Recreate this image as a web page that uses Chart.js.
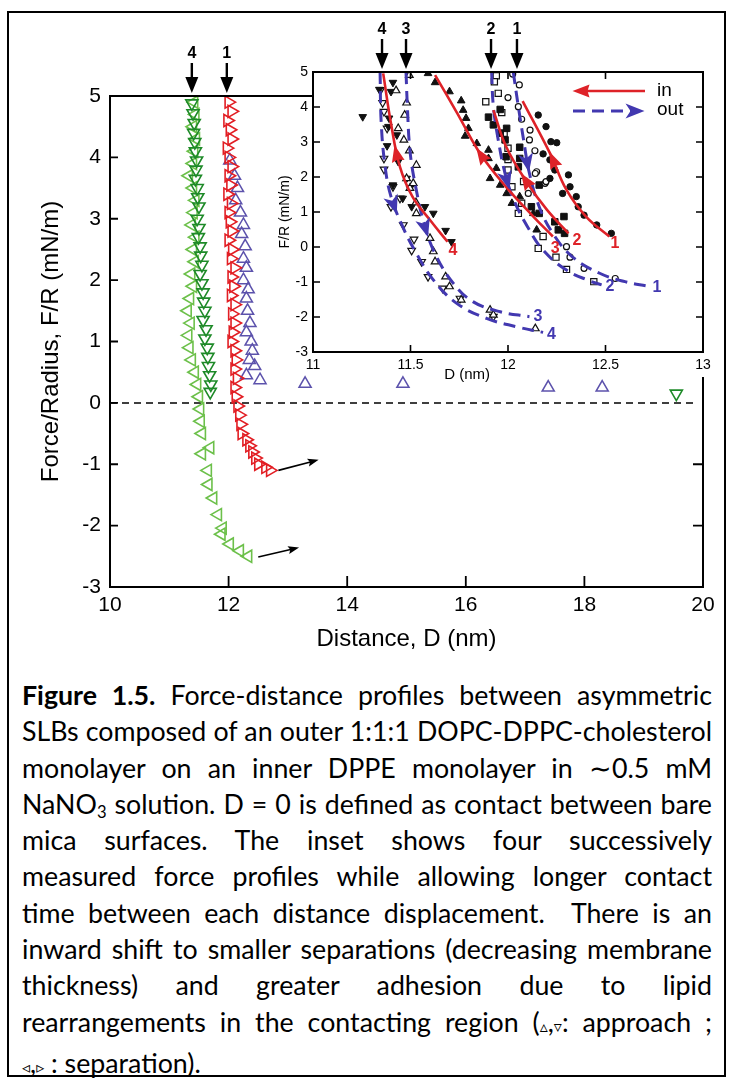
<!DOCTYPE html>
<html lang="en">
<head>
<meta charset="utf-8">
<title>Figure 1.5</title>
<script src="https://cdn.jsdelivr.net/npm/chart.js@4.4.1/dist/chart.umd.min.js"></script>
<style>
  html, body { margin: 0; padding: 0; background: #fff; }
  #page { position: relative; width: 733px; height: 1083px; overflow: hidden; background: #fff; }
  #frame { position: absolute; left: 7px; top: 11px; width: 719px; height: 1066px; border: 2px solid #000; box-sizing: border-box; }
  #mainChart { position: absolute; left: 0; top: 0; }
  #insetChart { position: absolute; left: 250px; top: 0; }
  #caption { position: absolute; left: 22px; top: 677px; width: 690px; font-family: Lato, 'Open Sans', sans-serif; font-size: 22px; line-height: 36.3px; color: #000; }
  #caption .ln { text-align: justify; text-align-last: justify; }
  #caption .ln:last-child { text-align-last: left; }
  #caption.measure .ln { text-align-last: left; white-space: nowrap; }
  #caption sub { font-size: 0.62em; vertical-align: -0.25em; line-height: 0; }
  .sym { font-family: 'DejaVu Sans', sans-serif; font-size: 0.6em; }
</style>
</head>
<body>
<div id="page">
  <div id="frame"></div>
  <canvas id="mainChart" width="733" height="660"></canvas>
  <canvas id="insetChart" width="483" height="400"></canvas>
  <div id="caption" class="measure">
    <div class="ln"><span><b>Figure 1.5.</b> Force-distance profiles between asymmetric</span></div>
    <div class="ln"><span>SLBs composed of an outer 1:1:1 DOPC-DPPC-cholesterol</span></div>
    <div class="ln"><span>monolayer on an inner DPPE monolayer in ∼0.5 mM</span></div>
    <div class="ln"><span>NaNO<sub>3</sub> solution. D = 0 is defined as contact between bare</span></div>
    <div class="ln"><span>mica surfaces. The inset shows four successively</span></div>
    <div class="ln"><span>measured force profiles while allowing longer contact</span></div>
    <div class="ln"><span>time between each distance displacement.&nbsp; There is an</span></div>
    <div class="ln"><span>inward shift to smaller separations (decreasing membrane</span></div>
    <div class="ln"><span>thickness) and greater adhesion due to lipid</span></div>
    <div class="ln"><span>rearrangements in the contacting region (<span class="sym">▵</span>,<span class="sym">▿</span>: approach ;</span></div>
    <div class="ln"><span><span class="sym">◃</span>,<span class="sym">▹</span> : separation).</span></div>
  </div>
</div>
<script>
'use strict';

const FONT = "'Liberation Sans', Arial, sans-serif";
Chart.defaults.font.family = FONT;
Chart.defaults.color = '#000';

// ---------- main plot: distance D (nm) vs F/R (mN/m) ----------
// run 4, approach (dark green down triangles)
const app4D = [11.38, 11.40, 11.42, 11.41, 11.43, 11.44, 11.46, 11.45, 11.44, 11.47, 11.48, 11.50, 11.47, 11.50, 11.49, 11.52, 11.53, 11.55, 11.52, 11.55, 11.57, 11.58, 11.60, 11.57, 11.62, 11.60, 11.64, 11.65, 11.66, 11.68, 11.70, 11.69, 19.55];
const app4F = [4.88, 4.72, 4.56, 4.40, 4.25, 4.10, 3.95, 3.80, 3.65, 3.50, 3.35, 3.20, 3.00, 2.85, 2.70, 2.55, 2.40, 2.25, 2.10, 1.95, 1.80, 1.65, 1.50, 1.35, 1.20, 1.05, 0.90, 0.75, 0.60, 0.45, 0.30, 0.18, 0.15];
// run 4, separation (light green left triangles)
const sep4D = [11.42, 11.44, 11.40, 11.45, 11.42, 11.40, 11.33, 11.40, 11.44, 11.41, 11.38, 11.44, 11.40, 11.43, 11.37, 11.40, 11.35, 11.31, 11.36, 11.32, 11.34, 11.38, 11.43, 11.47, 11.50, 11.52, 11.53, 11.55, 11.55, 11.69, 11.65, 11.66, 11.74, 11.82, 11.90, 11.88, 12.02, 12.19, 12.33];
const sep4F = [4.90, 4.70, 4.50, 4.30, 4.10, 3.90, 3.70, 3.50, 3.30, 3.10, 2.90, 2.70, 2.50, 2.30, 2.10, 1.90, 1.70, 1.50, 1.30, 1.10, 0.90, 0.70, 0.50, 0.30, 0.10, -0.10, -0.30, -0.50, -0.83, -0.73, -1.10, -1.33, -1.55, -1.82, -2.04, -2.14, -2.30, -2.41, -2.50];
// run 1, separation (red right triangles)
const sep1D = [12.00, 12.05, 11.98, 12.02, 12.05, 11.97, 12.00, 12.05, 12.00, 12.03, 11.98, 12.04, 12.00, 12.02, 12.05, 12.00, 12.06, 12.04, 12.10, 12.05, 12.08, 12.04, 12.10, 12.06, 12.10, 12.07, 12.05, 12.10, 12.12, 12.10, 12.14, 12.10, 12.12, 12.15, 12.18, 12.20, 12.22, 12.30, 12.35, 12.40, 12.45, 12.50, 12.62, 12.70];
const sep1F = [4.90, 4.75, 4.60, 4.45, 4.30, 4.15, 4.00, 3.85, 3.70, 3.55, 3.40, 3.25, 3.10, 2.95, 2.80, 2.65, 2.50, 2.35, 2.20, 2.05, 1.90, 1.75, 1.60, 1.45, 1.30, 1.15, 1.00, 0.85, 0.70, 0.55, 0.40, 0.25, 0.10, -0.05, -0.20, -0.35, -0.50, -0.60, -0.70, -0.80, -0.90, -1.00, -1.05, -1.10];
// run 1, approach (blue up triangles)
const app1D = [12.02, 12.10, 12.15, 12.12, 12.20, 12.25, 12.22, 12.28, 12.25, 12.30, 12.25, 12.33, 12.30, 12.32, 12.36, 12.30, 12.38, 12.40, 12.35, 12.44, 12.30, 12.53, 13.29, 14.94, 17.39, 18.30];
const app1F = [3.95, 3.70, 3.50, 3.30, 3.10, 2.90, 2.75, 2.55, 2.35, 2.20, 2.00, 1.85, 1.70, 1.50, 1.30, 1.15, 1.00, 0.85, 0.70, 0.60, 0.45, 0.37, 0.31, 0.31, 0.25, 0.25];
const zeroD = [10, 19.85];
const zeroF = [0, 0];
// run markers above the main plot and the two drift arrows
const mainRunD = [11.38, 11.97];
const mainRunLab = ['4', '1'];
const driftFromD = [12.50, 12.84];
const driftFromF = [-2.51, -1.10];
const driftToD = [13.18, 13.51];
const driftToF = [-2.36, -0.93];

// ---------- inset: fitted in/out curves ----------
const in1D = [12.075, 12.215, 12.30, 12.40, 12.52];
const in1F = [4.17, 2.68, 1.63, 0.87, 0.30];
const out1D = [12.027, 12.053, 12.08, 12.11, 12.16, 12.23, 12.33, 12.47, 12.60, 12.72];
const out1F = [5.0, 4.01, 3.06, 2.10, 1.15, 0.39, -0.28, -0.75, -0.99, -1.12];
const in2D = [11.925, 11.99, 12.10, 12.20, 12.31];
const in2F = [3.91, 2.87, 1.82, 1.06, 0.39];
const out2D = [11.916, 11.925, 11.95, 11.985, 12.03, 12.10, 12.18, 12.30, 12.42, 12.48];
const out2F = [5.0, 4.01, 3.06, 2.10, 1.34, 0.58, -0.09, -0.66, -0.97, -1.08];
const in3D = [11.626, 11.74, 11.856, 11.99, 12.13, 12.23];
const in3F = [4.91, 3.82, 2.68, 1.72, 0.87, 0.30];
const out3D = [11.477, 11.484, 11.497, 11.523, 11.574, 11.634, 11.72, 11.82, 11.96, 12.11];
const out3F = [5.0, 4.01, 2.77, 1.82, 0.58, -0.28, -1.04, -1.56, -1.85, -1.99];
const in4D = [11.36, 11.40, 11.446, 11.51, 11.60, 11.69];
const in4F = [4.96, 3.53, 2.29, 1.44, 0.77, 0.15];
const out4D = [11.344, 11.35, 11.37, 11.40, 11.46, 11.53, 11.617, 11.737, 11.89, 12.045, 12.18];
const out4F = [5.0, 3.53, 2.29, 1.44, 0.58, -0.18, -0.94, -1.61, -2.04, -2.28, -2.44];
// arrowheads sit where each curve crosses these F values
const inArrowF = [2.5, 1.9, 2.63, 2.68];
const outArrowF = [2.4, 1.9, 0.54, 1.2];
const insetRunD = [11.354, 11.477, 11.913, 12.046];
const insetRunLab = ['4', '3', '2', '1'];

// ---------- inset: measured points ----------
const fCircD = [12.155, 12.195, 12.22, 12.25, 12.18, 12.215, 12.24, 12.215, 12.28, 12.318, 12.31, 12.35, 12.36, 12.39, 12.455, 12.53];
const fCircF = [3.77, 3.44, 3.01, 2.98, 2.66, 2.49, 2.20, 1.96, 1.53, 1.72, 2.06, 1.44, 1.15, 0.91, 0.63, 0.39];
const oCircD = [12.024, 12.058, 12.0, 12.053, 12.07, 12.113, 12.11, 12.138, 12.147, 12.14, 12.19, 12.104, 12.195, 12.30, 12.318, 12.39, 12.55];
const oCircF = [4.94, 4.63, 4.27, 4.01, 3.65, 3.34, 3.06, 2.75, 2.15, 2.10, 1.82, 1.53, 1.87, 0.01, -0.29, -0.61, -0.90];
const fSqD = [11.96, 11.90, 11.925, 11.993, 11.96, 11.985, 12.06, 11.99, 12.053, 12.06, 12.16, 12.12, 12.16, 12.287, 12.24, 12.258, 12.29];
const fSqF = [3.93, 3.71, 3.49, 3.39, 3.25, 3.06, 2.85, 2.58, 2.29, 2.53, 1.77, 1.15, 0.96, 0.87, 0.72, 0.49, 0.39];
const oSqD = [11.94, 11.93, 11.95, 11.886, 11.968, 11.98, 12.0, 12.0, 12.0, 12.08, 12.02, 12.07, 12.053, 12.18, 12.155, 12.246, 12.30, 12.44];
const oSqF = [4.89, 4.72, 4.39, 4.15, 3.84, 3.25, 2.82, 2.50, 2.20, 1.87, 1.72, 1.25, 0.96, 0.30, -0.04, -0.29, -0.64, -0.99];
const fUpD = [11.59, 11.626, 11.70, 11.76, 11.77, 11.785, 11.797, 11.78, 11.84, 11.90, 11.90, 11.94, 11.908, 11.96, 11.993, 12.02, 12.06, 12.13, 12.147];
const fUpF = [4.96, 4.70, 4.44, 4.18, 3.91, 3.68, 3.39, 3.17, 2.96, 2.77, 2.53, 2.25, 1.96, 1.77, 1.53, 1.25, 1.44, 0.96, 0.49];
const oUpD = [11.494, 11.426, 11.48, 11.47, 11.437, 11.466, 11.494, 11.53, 11.48, 11.497, 11.514, 11.528, 11.53, 11.60, 11.617, 11.626, 11.68, 11.70, 11.76, 11.908, 11.925, 12.14];
const oUpF = [4.91, 4.47, 4.12, 3.77, 3.39, 3.06, 2.75, 2.34, 1.96, 1.68, 1.82, 1.27, 0.96, 0.25, -0.13, -0.42, -0.85, -1.13, -1.51, -1.80, -1.94, -2.33];
const fDnD = [11.41, 11.40, 11.34, 11.255, 11.39, 11.387, 11.43, 11.38, 11.437, 11.48, 11.497, 11.46, 11.41, 11.574, 11.506, 11.617, 11.68, 11.71];
const fDnF = [4.70, 4.44, 4.50, 3.72, 3.68, 3.44, 3.20, 2.89, 2.44, 1.96, 1.68, 1.39, 1.77, 1.15, 1.15, 0.96, 0.47, 0.15];
const oDnD = [11.347, 11.357, 11.364, 11.38, 11.364, 11.364, 11.41, 11.446, 11.40, 11.463, 11.518, 11.506, 11.557, 11.59, 11.665, 11.754, 11.925];
const oDnF = [4.49, 4.12, 3.87, 3.39, 2.53, 2.22, 1.72, 1.39, 1.15, 0.63, 0.22, -0.10, -0.42, -0.85, -1.18, -1.47, -1.99];

const RED = 'rgb(222,34,40)';
const BLUE = 'rgb(66,56,176)';
const INK = '#111';

function pts(d, f) {
  let out = [];
  for (let i = 0; i < Math.min(d.length, f.length); i++) {
    out.push({ x: d[i], y: f[i] });
  }
  return out;
}

function markers(label, d, f, style, rot, r, color, fill, bw) {
  return {
    label: label,
    data: pts(d, f),
    showLine: false,
    pointStyle: style,
    pointRotation: rot,
    pointRadius: r,
    pointHoverRadius: r,
    pointBorderColor: color,
    pointBackgroundColor: fill,
    pointBorderWidth: bw
  };
}

function curve(label, d, f, color, dashed) {
  return {
    label: label,
    data: pts(d, f),
    showLine: true,
    pointRadius: 0,
    pointHoverRadius: 0,
    borderColor: color,
    borderWidth: dashed ? 3 : 2.6,
    borderDash: dashed ? [12, 7] : [],
    tension: 0.4,
    fill: false
  };
}

function head(ctx, x, y, ang, len, half, notch, color) {
  ctx.save();
  ctx.translate(x, y);
  ctx.rotate(ang);
  ctx.beginPath();
  ctx.moveTo(len / 2, 0);
  ctx.lineTo(-len / 2, -half);
  ctx.lineTo(-len / 2 + notch, 0);
  ctx.lineTo(-len / 2, half);
  ctx.closePath();
  ctx.fillStyle = color;
  ctx.fill();
  ctx.restore();
}

// the numbered arrows pointing down onto the top of a plot
function runArrow(ctx, px, tipY, label) {
  ctx.save();
  ctx.fillStyle = '#000';
  ctx.strokeStyle = '#000';
  ctx.font = 'bold 16px ' + FONT;
  ctx.textAlign = 'center';
  ctx.textBaseline = 'middle';
  ctx.fillText(label, px, tipY - 39);
  ctx.lineWidth = 2.4;
  ctx.beginPath();
  ctx.moveTo(px, tipY - 30);
  ctx.lineTo(px, tipY - 12);
  ctx.stroke();
  head(ctx, px, tipY - 8, Math.PI / 2, 16, 6.5, 0, '#000');
  ctx.restore();
}

function bez(p0, c1, c2, p1, t) {
  const u = 1 - t;
  return u * u * u * p0 + 3 * u * u * t * c1 + 3 * u * t * t * c2 + t * t * t * p1;
}
function bezD(p0, c1, c2, p1, t) {
  const u = 1 - t;
  return 3 * u * u * (c1 - p0) + 6 * u * t * (c2 - c1) + 3 * t * t * (p1 - c2);
}

// find where the drawn (bezier) curve crosses pixel row py
function pointOnCurve(meta, py) {
  const p = meta.data;
  for (let i = 0; i < p.length - 1; i++) {
    const a = p[i], b = p[i + 1];
    if ((py - a.y) * (py - b.y) > 0) continue;
    const c1x = a.cp2x ?? a.x, c1y = a.cp2y ?? a.y;
    const c2x = b.cp1x ?? b.x, c2y = b.cp1y ?? b.y;
    const dir = b.y > a.y ? 1 : -1;
    let lo = 0, hi = 1;
    for (let k = 0; k < 40; k++) {
      const t = (lo + hi) / 2;
      if ((bez(a.y, c1y, c2y, b.y, t) - py) * dir < 0) lo = t; else hi = t;
    }
    const t = (lo + hi) / 2;
    return {
      x: bez(a.x, c1x, c2x, b.x, t), y: bez(a.y, c1y, c2y, b.y, t),
      dx: bezD(a.x, c1x, c2x, b.x, t), dy: bezD(a.y, c1y, c2y, b.y, t)
    };
  }
  return null;
}

// ---------- main chart ----------
const INSET_LEFT = 313;   // page px where the inset box starts
const INSET_BOTTOM = 377; // page px where the inset labels end

const mainDecor = {
  id: 'mainDecor',
  afterDatasetsDraw(chart) {
    const { ctx, chartArea: a, scales: { x, y } } = chart;
    ctx.save();
    ctx.strokeStyle = '#000';
    ctx.lineWidth = 2;
    ctx.beginPath();
    ctx.moveTo(INSET_LEFT, a.top);
    ctx.lineTo(a.left, a.top);
    ctx.lineTo(a.left, a.bottom);
    ctx.lineTo(a.right, a.bottom);
    ctx.lineTo(a.right, INSET_BOTTOM);
    ctx.stroke();

    ctx.lineWidth = 1.8;
    ctx.beginPath();
    for (let v = -2; v <= 4; v++) {
      const py = y.getPixelForValue(v);
      ctx.moveTo(a.left, py);
      ctx.lineTo(a.left + 8, py);
    }
    for (let v = 12; v <= 18; v += 2) {
      const px = x.getPixelForValue(v);
      ctx.moveTo(px, a.bottom);
      ctx.lineTo(px, a.bottom - 11);
    }
    for (const v of [-2, -1]) {
      const py = y.getPixelForValue(v);
      ctx.moveTo(a.right, py);
      ctx.lineTo(a.right - 10, py);
    }
    ctx.stroke();

    // drift arrows next to the adhesion minima
    ctx.lineWidth = 1.6;
    for (let i = 0; i < driftFromD.length; i++) {
      const x0 = x.getPixelForValue(driftFromD[i]), y0 = y.getPixelForValue(driftFromF[i]);
      const x1 = x.getPixelForValue(driftToD[i]), y1 = y.getPixelForValue(driftToF[i]);
      const ang = Math.atan2(y1 - y0, x1 - x0);
      ctx.beginPath();
      ctx.moveTo(x0, y0);
      ctx.lineTo(x1 - 6 * Math.cos(ang), y1 - 6 * Math.sin(ang));
      ctx.stroke();
      head(ctx, x1 - 5 * Math.cos(ang), y1 - 5 * Math.sin(ang), ang, 11, 4, 2, '#000');
    }
    ctx.restore();

    for (let i = 0; i < mainRunD.length; i++) {
      runArrow(ctx, x.getPixelForValue(mainRunD[i]), a.top - 3, mainRunLab[i]);
    }
  }
};

new Chart(document.getElementById('mainChart'), {
  type: 'scatter',
  data: {
    datasets: [
      markers('run 1 out', sep1D, sep1F, 'triangle', 90, 7, 'rgb(226,30,36)', 'rgba(0,0,0,0)', 1.6),
      markers('run 1 in', app1D, app1F, 'triangle', 0, 7, 'rgb(92,82,172)', 'rgba(0,0,0,0)', 1.5),
      markers('run 4 in', app4D, app4F, 'triangle', 180, 7, 'rgb(30,138,40)', 'rgba(0,0,0,0)', 1.6),
      markers('run 4 out', sep4D, sep4F, 'triangle', 270, 7, 'rgb(108,192,74)', 'rgba(0,0,0,0)', 1.6),
      {
        label: 'zero', data: pts(zeroD, zeroF), showLine: true, pointRadius: 0,
        borderColor: '#000', borderWidth: 1.5, borderDash: [7, 5]
      }
    ]
  },
  options: {
    responsive: false,
    animation: false,
    events: [],
    layout: { padding: { left: 0, right: 30, top: 96, bottom: 0 } },
    plugins: { legend: { display: false }, tooltip: { enabled: false } },
    scales: {
      x: {
        type: 'linear', min: 10, max: 20,
        afterFit: (s) => { s.height = 73; },
        grid: { display: false, drawTicks: false },
        border: { display: false },
        ticks: { stepSize: 2, font: { size: 21 }, padding: 6, maxRotation: 0 },
        title: { display: true, text: 'Distance, D (nm)', font: { size: 24 }, padding: { top: 0, bottom: 6 } }
      },
      y: {
        type: 'linear', min: -3, max: 5,
        afterFit: (s) => { s.width = 110; },
        grid: { display: false, drawTicks: false },
        border: { display: false },
        ticks: { stepSize: 1, font: { size: 21 }, padding: 9 },
        title: { display: true, text: 'Force/Radius, F/R (mN/m)', font: { size: 24 }, padding: { top: 37, bottom: 0 } }
      }
    }
  },
  plugins: [mainDecor]
});

// ---------- inset chart ----------
const curveLabels = [
  { ds: 'in 1', text: '1', color: RED, dx: 1, dy: 7 },
  { ds: 'in 2', text: '2', color: RED, dx: 4, dy: 7 },
  { ds: 'in 3', text: '3', color: RED, dx: -2, dy: 12 },
  { ds: 'in 4', text: '4', color: RED, dx: 1, dy: 9 },
  { ds: 'out 1', text: '1', color: BLUE, dx: 4, dy: 1 },
  { ds: 'out 2', text: '2', color: BLUE, dx: 4, dy: 2 },
  { ds: 'out 3', text: '3', color: BLUE, dx: 4, dy: 0 },
  { ds: 'out 4', text: '4', color: BLUE, dx: 4, dy: 2 }
];

const insetDecor = {
  id: 'insetDecor',
  afterDatasetsDraw(chart) {
    const { ctx, chartArea: a, scales: { x, y } } = chart;
    const names = chart.data.datasets.map(d => d.label);

    // direction arrowheads on the curves
    for (let i = 0; i < 4; i++) {
      const mi = chart.getDatasetMeta(names.indexOf('in ' + (i + 1)));
      const pi = pointOnCurve(mi, y.getPixelForValue(inArrowF[i]));
      if (pi) head(ctx, pi.x, pi.y, Math.atan2(-pi.dy, -pi.dx), 17, 6.5, 2, RED);
      const mo = chart.getDatasetMeta(names.indexOf('out ' + (i + 1)));
      const po = pointOnCurve(mo, y.getPixelForValue(outArrowF[i]));
      if (po) head(ctx, po.x, po.y, Math.atan2(po.dy, po.dx), 19, 7.5, 5, BLUE);
    }

    ctx.save();
    // frame and inward ticks
    ctx.strokeStyle = '#000';
    ctx.lineWidth = 2;
    ctx.strokeRect(a.left, a.top, a.right - a.left, a.bottom - a.top);
    ctx.lineWidth = 1.6;
    ctx.beginPath();
    for (let v = -2; v <= 4; v++) {
      const py = y.getPixelForValue(v);
      ctx.moveTo(a.left, py);
      ctx.lineTo(a.left + 7, py);
      ctx.moveTo(a.right, py);
      ctx.lineTo(a.right - 7, py);
    }
    for (const v of [11.5, 12, 12.5]) {
      const px = x.getPixelForValue(v);
      ctx.moveTo(px, a.bottom);
      ctx.lineTo(px, a.bottom - 7);
      ctx.moveTo(px, a.top);
      ctx.lineTo(px, a.top + 7);
    }
    ctx.stroke();

    // legend
    const lx = a.left + 260, ly1 = a.top + 19, ly2 = a.top + 39;
    ctx.strokeStyle = RED;
    ctx.lineWidth = 2.6;
    ctx.beginPath();
    ctx.moveTo(lx + 12, ly1);
    ctx.lineTo(lx + 72, ly1);
    ctx.stroke();
    head(ctx, lx + 8, ly1, Math.PI, 17, 6.5, 2, RED);
    ctx.strokeStyle = BLUE;
    ctx.lineWidth = 3;
    ctx.setLineDash([12, 7]);
    ctx.beginPath();
    ctx.moveTo(lx, ly2);
    ctx.lineTo(lx + 58, ly2);
    ctx.stroke();
    ctx.setLineDash([]);
    head(ctx, lx + 62, ly2, 0, 19, 7.5, 5, BLUE);
    ctx.fillStyle = '#000';
    ctx.font = '19px ' + FONT;
    ctx.textAlign = 'left';
    ctx.textBaseline = 'middle';
    ctx.fillText('in', lx + 84, ly1);
    ctx.fillText('out', lx + 84, ly2 - 1);

    // curve numbers
    ctx.font = 'bold 16px ' + FONT;
    for (const c of curveLabels) {
      const meta = chart.getDatasetMeta(names.indexOf(c.ds));
      const last = meta.data[meta.data.length - 1];
      ctx.fillStyle = c.color;
      ctx.fillText(c.text, last.x + c.dx, last.y + c.dy);
    }

    // x title sits between the 11.5 and 12 labels
    ctx.fillStyle = '#000';
    ctx.font = '15px ' + FONT;
    ctx.textAlign = 'center';
    ctx.fillText('D (nm)', x.getPixelForValue(11.79), a.bottom + 23);
    ctx.restore();

    for (let i = 0; i < insetRunD.length; i++) {
      runArrow(ctx, x.getPixelForValue(insetRunD[i]), a.top - 3, insetRunLab[i]);
    }
  }
};

new Chart(document.getElementById('insetChart'), {
  type: 'scatter',
  data: {
    datasets: [
      curve('in 1', in1D, in1F, RED, false),
      curve('in 2', in2D, in2F, RED, false),
      curve('in 3', in3D, in3F, RED, false),
      curve('in 4', in4D, in4F, RED, false),
      curve('out 1', out1D, out1F, BLUE, true),
      curve('out 2', out2D, out2F, BLUE, true),
      curve('out 3', out3D, out3F, BLUE, true),
      curve('out 4', out4D, out4F, BLUE, true),
      markers('1 in', fCircD, fCircF, 'circle', 0, 3.2, INK, INK, 1),
      markers('1 out', oCircD, oCircF, 'circle', 0, 3, INK, '#fff', 1.2),
      markers('2 in', fSqD, fSqF, 'rect', 0, 4.6, INK, INK, 1),
      markers('2 out', oSqD, oSqF, 'rect', 0, 4.4, INK, '#fff', 1.2),
      markers('3 in', fUpD, fUpF, 'triangle', 0, 4.4, INK, INK, 1),
      markers('3 out', oUpD, oUpF, 'triangle', 0, 4.4, INK, '#fff', 1.2),
      markers('4 in', fDnD, fDnF, 'triangle', 180, 4.4, INK, INK, 1),
      markers('4 out', oDnD, oDnF, 'triangle', 180, 4.4, INK, '#fff', 1.2)
    ]
  },
  options: {
    responsive: false,
    animation: false,
    events: [],
    layout: { padding: { left: 0, right: 30, top: 72, bottom: 0 } },
    plugins: { legend: { display: false }, tooltip: { enabled: false } },
    scales: {
      x: {
        type: 'linear', min: 11, max: 13,
        afterFit: (s) => { s.height = 48; },
        grid: { display: false, drawTicks: false },
        border: { display: false },
        ticks: {
          stepSize: 0.5, font: { size: 14 }, padding: 5, maxRotation: 0, autoSkip: false,
          callback: (v) => String(v)
        }
      },
      y: {
        type: 'linear', min: -3, max: 5,
        afterFit: (s) => { s.width = 63; },
        grid: { display: false, drawTicks: false },
        border: { display: false },
        ticks: { stepSize: 1, font: { size: 14 }, padding: 5 },
        title: { display: true, text: 'F/R (mN/m)', font: { size: 14 }, padding: { top: 27, bottom: 0 } }
      }
    }
  },
  plugins: [insetDecor]
});

// ---------- caption: size the font so the tightest line fills the width ----------
const caption = document.getElementById('caption');
let widest = 0;
caption.querySelectorAll('.ln > span').forEach(s => {
  widest = Math.max(widest, s.getBoundingClientRect().width);
});
caption.style.fontSize = (22 * 688 / widest).toFixed(2) + 'px';
caption.classList.remove('measure');
</script>
</body>
</html>
